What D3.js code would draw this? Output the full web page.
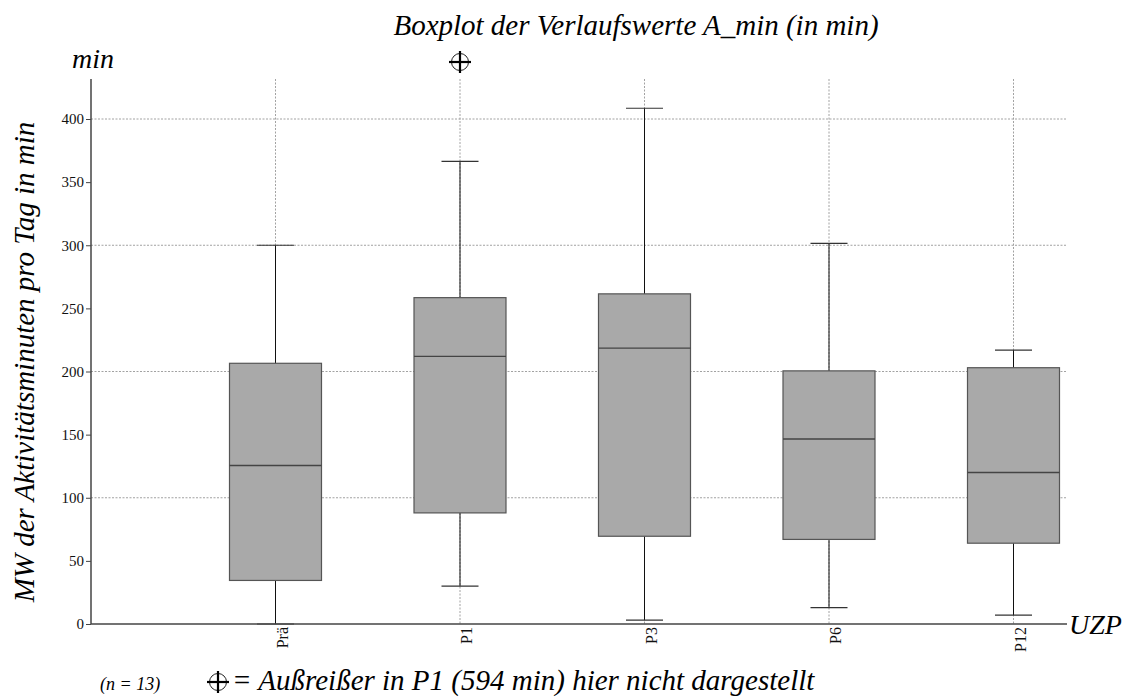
<!DOCTYPE html>
<html>
<head>
<meta charset="utf-8">
<script src="https://cdn.jsdelivr.net/npm/d3@7"></script>
<style>
  body { margin: 0; background: #fff; }
</style>
</head>
<body>
<svg id="chart"></svg>
<script>
// Boxplot data (values in min)
const categories = ["Prä", "P1", "P3", "P6", "P12"];
const whiskerLow = [0, 30, 3, 13, 7];
const q1 = [34.5, 88, 69.5, 67, 64];
const median = [125.5, 212, 218.5, 146.5, 120];
const q3 = [206.5, 258.5, 261.5, 200.5, 203];
const whiskerHigh = [300, 366.5, 408.5, 301.5, 217];
const yTicks = [0, 50, 100, 150, 200, 250, 300, 350, 400];
const gridTicks = [100, 200, 300, 400];
const outlierCategory = "P1";

const width = 1125;
const height = 698;
const serif = "'Liberation Serif', 'Times New Roman', serif";

const svg = d3.select("#chart")
  .attr("width", width)
  .attr("height", height)
  .style("font-family", serif);

const plotLeft = 91, plotRight = 1067, plotTop = 79, plotBottom = 624;

// x: categories on evenly spaced slots, axis sits one slot to the left
const x = d3.scalePoint()
  .domain(["", ...categories])
  .range([plotLeft, plotLeft + 184.5 * categories.length]);

const y = d3.scaleLinear()
  .domain([0, 400])
  .range([plotBottom, 119]);

const boxes = categories.map((c, i) => ({
  cat: c, lo: whiskerLow[i], q1: q1[i], med: median[i], q3: q3[i], hi: whiskerHigh[i]
}));

// Grid
const grid = svg.append("g");
grid.selectAll("line.h")
  .data(gridTicks)
  .join("line")
  .attr("x1", plotLeft).attr("x2", plotRight)
  .attr("y1", d => y(d)).attr("y2", d => y(d))
  .attr("stroke", "#8a8a8a")
  .attr("stroke-width", 0.8)
  .attr("stroke-dasharray", "2,1.5");
grid.selectAll("line.v")
  .data(categories)
  .join("line")
  .attr("x1", d => x(d)).attr("x2", d => x(d))
  .attr("y1", plotTop).attr("y2", plotBottom)
  .attr("stroke", "#8a8a8a")
  .attr("stroke-width", 0.8)
  .attr("stroke-dasharray", "2,1.5");

// Y axis
const yAxis = svg.append("g")
  .attr("transform", `translate(${plotLeft},0)`)
  .call(d3.axisLeft(y).tickValues(yTicks).tickSize(5).tickPadding(2));
yAxis.select(".domain").remove();
yAxis.selectAll(".tick line").attr("stroke", "#444");
yAxis.selectAll(".tick text")
  .attr("fill", "#111")
  .style("font-size", "15px")
  .style("font-family", serif);
svg.append("line")
  .attr("x1", plotLeft).attr("x2", plotLeft)
  .attr("y1", plotTop).attr("y2", plotBottom)
  .attr("stroke", "#444").attr("stroke-width", 1.5);

// Boxes
const boxW = 92, capW = 37;
const g = svg.append("g");
boxes.forEach(b => {
  const cx = x(b.cat);
  g.append("line")
    .attr("x1", cx).attr("x2", cx)
    .attr("y1", y(b.hi)).attr("y2", y(b.q3))
    .attr("stroke", "#111").attr("stroke-width", 1);
  g.append("line")
    .attr("x1", cx).attr("x2", cx)
    .attr("y1", y(b.q1)).attr("y2", y(b.lo))
    .attr("stroke", "#111").attr("stroke-width", 1);
  [b.hi, b.lo].forEach(v => {
    g.append("line")
      .attr("x1", cx - capW / 2).attr("x2", cx + capW / 2)
      .attr("y1", y(v)).attr("y2", y(v))
      .attr("stroke", "#333").attr("stroke-width", 1.2);
  });
  g.append("rect")
    .attr("x", cx - boxW / 2).attr("width", boxW)
    .attr("y", y(b.q3)).attr("height", y(b.q1) - y(b.q3))
    .attr("fill", "#a9a9a9")
    .attr("stroke", "#555").attr("stroke-width", 1.2);
  g.append("line")
    .attr("x1", cx - boxW / 2).attr("x2", cx + boxW / 2)
    .attr("y1", y(b.med)).attr("y2", y(b.med))
    .attr("stroke", "#444").attr("stroke-width", 1.4);
});

// X axis line
svg.append("line")
  .attr("x1", plotLeft).attr("x2", plotRight)
  .attr("y1", plotBottom).attr("y2", plotBottom)
  .attr("stroke", "#444").attr("stroke-width", 1.5);

// X tick labels, rotated
svg.selectAll("text.xlab")
  .data(categories)
  .join("text")
  .attr("class", "xlab")
  .attr("transform", d => `translate(${x(d) + 12},${plotBottom + 3}) rotate(-90)`)
  .attr("text-anchor", "end")
  .style("font-size", "16px")
  .style("font-family", serif)
  .attr("fill", "#111")
  .text(d => d);

// Outlier marker symbol
function marker(sel, cx, cy) {
  const m = sel.append("g").attr("transform", `translate(${cx},${cy})`);
  m.append("circle").attr("r", 8.5).attr("fill", "none").attr("stroke", "#222").attr("stroke-width", 1);
  m.append("line").attr("x1", -11).attr("x2", 11).attr("stroke", "#000").attr("stroke-width", 2.2);
  m.append("line").attr("y1", -11).attr("y2", 11).attr("stroke", "#000").attr("stroke-width", 2.2);
}
marker(svg, x(outlierCategory), 62);

// Titles and labels
function label(txt, size) {
  return svg.append("text")
    .style("font-family", serif)
    .style("font-size", size + "px")
    .style("font-style", "italic")
    .attr("fill", "#000")
    .text(txt);
}

label("Boxplot der Verlaufswerte A_min (in min)", 29)
  .attr("x", 636).attr("y", 35)
  .attr("text-anchor", "middle");

label("min", 28).attr("x", 72).attr("y", 68);

label("MW der Aktivitätsminuten pro Tag in min", 29)
  .attr("transform", "translate(34,362) rotate(-90)")
  .attr("text-anchor", "middle");

label("UZP", 28).attr("x", 1069).attr("y", 634);

label("(n = 13)", 18).attr("x", 100).attr("y", 690);

marker(svg, 218, 682);
label("= Außreißer in P1 (594 min) hier nicht dargestellt", 29)
  .attr("x", 232).attr("y", 690);
</script>
</body>
</html>
